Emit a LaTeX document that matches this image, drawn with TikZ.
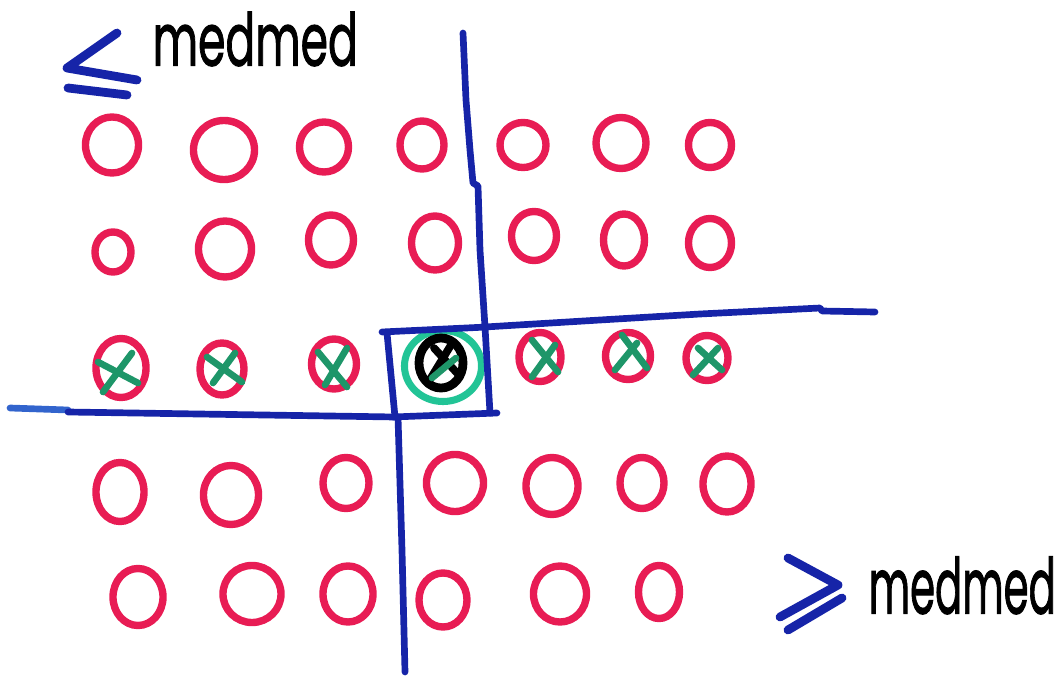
\documentclass[tikz,border=0pt]{standalone}
\usepackage{fontspec}
\newfontfamily\hand[FakeBold=1.6]{Poppins}
\usetikzlibrary{shapes.geometric}
\definecolor{pen}{RGB}{232,28,84}
\definecolor{ink}{RGB}{22,36,168}
\definecolor{inklight}{RGB}{50,100,205}
\definecolor{ringcol}{RGB}{34,196,150}
\definecolor{crossg}{RGB}{30,150,105}
\tikzset{
  ring/.style={ellipse, draw=pen, line width=2.1pt, inner sep=0pt},
  blueline/.style={draw=ink, line width=1.9pt, line cap=round, line join=round},
  relsym/.style={draw=ink, line width=2.5pt, line cap=round, line join=round},
  crossline/.style={draw=crossg, line width=1.9pt, line cap=round},
  label/.style={inner sep=0pt, anchor=south west}
}
\newcommand{\C}[5]{\node[ring, minimum width=#4cm, minimum height=#5cm] (#1) at (#2,#3) {};}
\begin{document}
\begin{tikzpicture}[x=0.01cm, y=-0.01cm]
\useasboundingbox (0,0) rectangle (1063,676);
% row 1
\C{a11}{112}{145}{0.53}{0.56}
\C{a12}{224}{150}{0.61}{0.59}
\C{a13}{324}{147}{0.49}{0.50}
\C{a14}{422}{145}{0.44}{0.48}
\C{a15}{523}{145}{0.46}{0.45}
\C{a16}{621}{143}{0.50}{0.51}
\C{a17}{710}{145}{0.43}{0.45}
% row 2
\C{a21}{113}{252}{0.36}{0.40}
\C{a22}{225}{249}{0.53}{0.56}
\C{a23}{331}{240}{0.45}{0.50}
\C{a24}{435}{243}{0.47}{0.54}
\C{a25}{534}{236}{0.45}{0.49}
\C{a26}{624}{240}{0.41}{0.52}
\C{a27}{710}{243}{0.43}{0.49}
% row 3
\C{a31}{121}{368}{0.50}{0.59}
\C{a32}{222}{369}{0.44}{0.52}
\C{a33}{334}{364}{0.45}{0.50}
\C{a35}{540}{357}{0.42}{0.49}
\C{a36}{628}{356}{0.45}{0.47}
\C{a37}{707}{358}{0.42}{0.45}
% centre element
\node[ellipse, draw=ringcol, line width=2pt, minimum width=0.77cm, minimum height=0.71cm, inner sep=0pt] (ring) at (443,366) {};
\node[ellipse, draw=black, line width=2.5pt, minimum width=0.44cm, minimum height=0.50cm, inner sep=0pt] (med) at (441,363) {};
\draw[black, line width=2.2pt, line cap=round] (451,345) -- (429,381);
\draw[black, line width=2.2pt, line cap=round] (434,348) -- (457,373);
\draw[crossline] (456,358) -- (432,378);
% row 4
\C{a41}{120}{492}{0.48}{0.59}
\C{a42}{231}{495}{0.55}{0.59}
\C{a43}{346}{483}{0.46}{0.51}
\C{a44}{455}{483}{0.57}{0.57}
\C{a45}{552}{486}{0.52}{0.57}
\C{a46}{642}{483}{0.44}{0.51}
\C{a47}{727}{484}{0.48}{0.56}
% row 5
\C{a51}{138}{597}{0.50}{0.57}
\C{a52}{252}{594}{0.58}{0.57}
\C{a53}{348}{594}{0.50}{0.56}
\C{a54}{443}{600}{0.48}{0.54}
\C{a55}{560}{594}{0.53}{0.56}
\C{a56}{659}{592}{0.41}{0.53}
% green crosses
\draw[crossline] (132,353) -- (103,392);
\draw[crossline] (98,362) -- (138,383);
\draw[crossline] (235,353) -- (213,383);
\draw[crossline] (207,357) -- (242,382);
\draw[crossline] (347,348) -- (325,385);
\draw[crossline] (318,352) -- (347,387);
\draw[crossline] (555,345) -- (532,377);
\draw[crossline] (532,340) -- (558,372);
\draw[crossline] (637,343) -- (615,370);
\draw[crossline] (622,335) -- (647,368);
\draw[crossline] (718,348) -- (693,375);
\draw[crossline] (698,348) -- (722,370);
% blue dividing lines
\draw[blueline] (463,33) -- (466,100) -- (470,150) -- (473,183) -- (478,186) -- (480,250) -- (485,327);
\draw[blueline] (485,327) -- (600,320) -- (700,314) -- (820,308) -- (822,311) -- (875,312);
\draw[blueline] (382,332) -- (487,327);
\draw[blueline] (387,333) -- (395,417);
\draw[blueline] (393,417) -- (497,413);
\draw[blueline] (485,327) -- (490,413);
\draw[blueline, draw=inklight] (10,408) -- (68,410);
\draw[blueline] (68,412) -- (395,417);
\draw[blueline] (398,417) -- (402,550) -- (405,672);
% relation symbols
\draw[relsym] (117,33) -- (67,68) -- (137,80);
\draw[relsym] (68,88) -- (127,95);
\draw[relsym] (788,558) -- (838,585) -- (780,617);
\draw[relsym] (788,630) -- (842,598);
% labels
\node[label] (lo) at (152,67) {\resizebox{2.05cm}{0.54cm}{\hand medmed}};
\node[label] (hi) at (868,615) {\resizebox{1.87cm}{0.57cm}{\hand medmed}};
\end{tikzpicture}
\end{document}
